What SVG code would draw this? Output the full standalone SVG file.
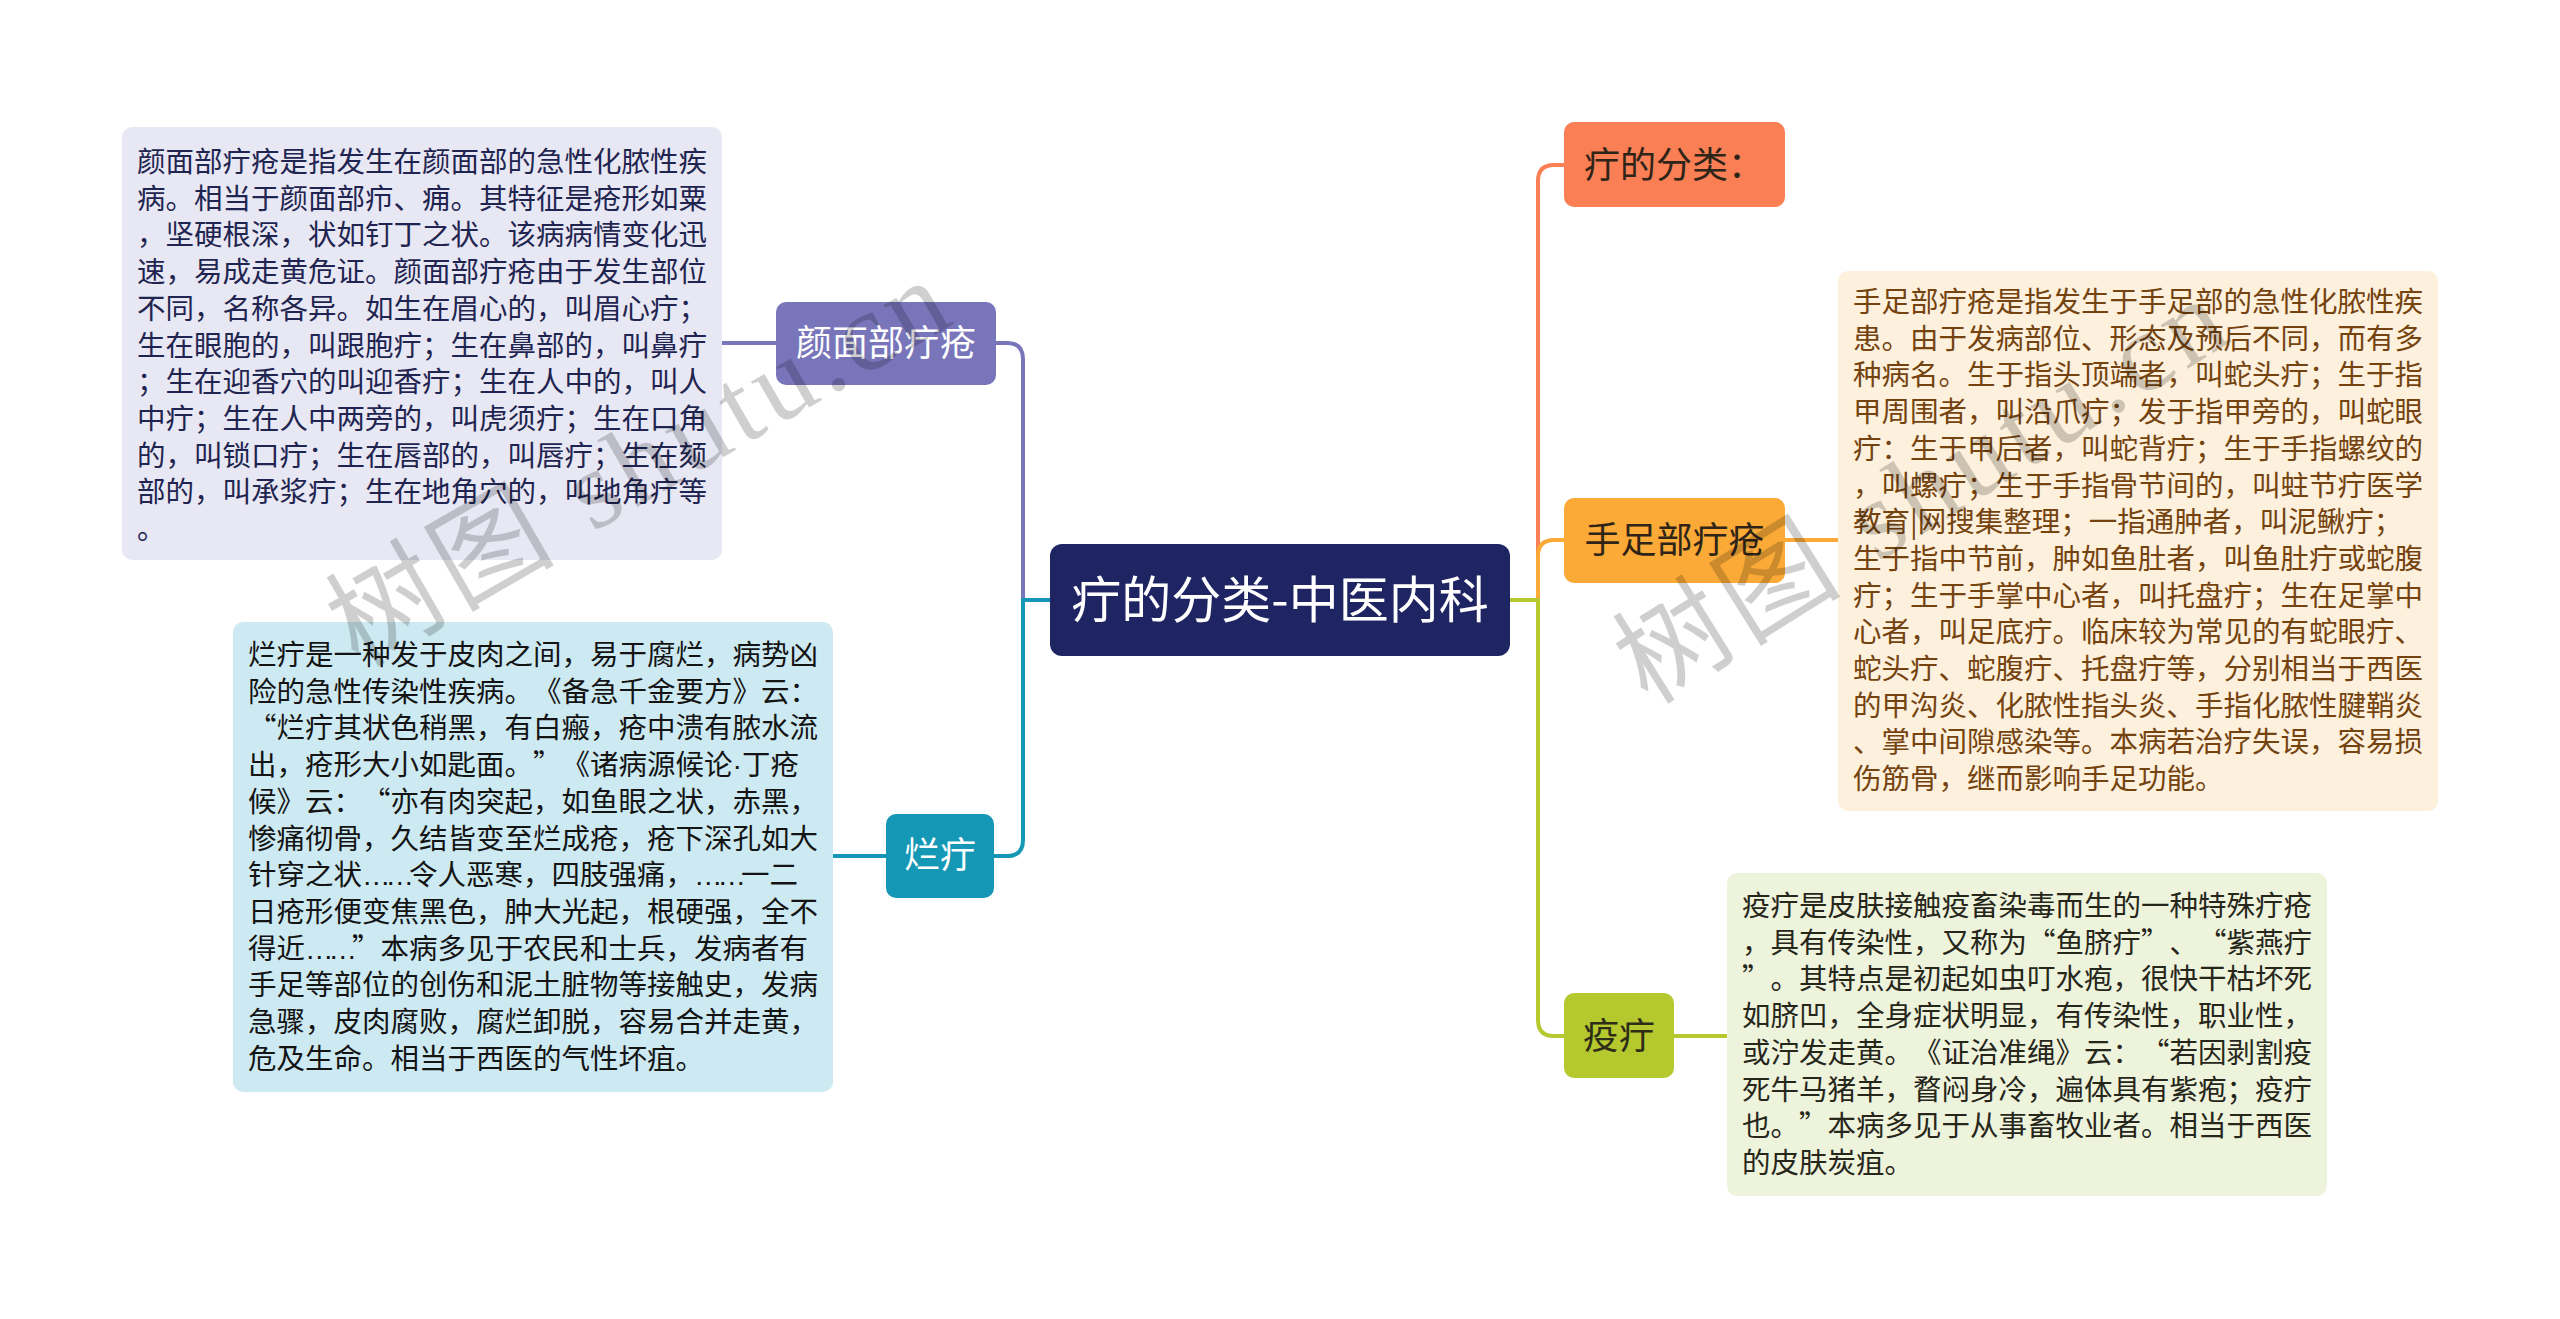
<svg xmlns="http://www.w3.org/2000/svg" width="2560" height="1319" viewBox="0 0 2560 1319" xml:lang="zh-CN">
<style>
  text { font-family: "Noto Sans CJK SC", "Noto Sans", sans-serif; text-spacing-trim: space-all; }
  .conn { fill: none; stroke-width: 4; stroke-linecap: round; }
  .box-text { font-size: 28.5px; }
  .lbl { font-size: 36px; }
  .lat { font-family: "Liberation Sans", sans-serif; }
  .ell { font-family: "Liberation Sans", sans-serif; letter-spacing: -5px; }
  .wm { font-family: "Liberation Serif", "Noto Sans CJK SC", serif; font-size: 112px; fill: #000; fill-opacity: 0.19; }
</style>
<rect x="0" y="0" width="2560" height="1319" fill="#ffffff"/>

<g id="connectors">
  <path class="conn" stroke="#7875bb" d="M1050,600 H1023 V359 Q1023,343 1007,343 H996"/>
  <path class="conn" stroke="#7875bb" d="M722,343 H776"/>
  <path class="conn" stroke="#1597b6" d="M1050,600 H1023 V840 Q1023,856 1007,856 H994"/>
  <path class="conn" stroke="#1597b6" d="M833,856 H886"/>
  <path class="conn" stroke="#fa7f55" d="M1510,600 H1538 V181 Q1538,165 1554,165 H1564"/>
  <path class="conn" stroke="#fbaa37" d="M1510,600 H1538 V556 Q1538,540 1554,540 H1564"/>
  <path class="conn" stroke="#b5c92f" d="M1510,600 H1538 V1020 Q1538,1036 1554,1036 H1564"/>
  <path class="conn" stroke="#fbaa37" d="M1785,540 H1838"/>
  <path class="conn" stroke="#b5c92f" d="M1674,1036 H1727"/>
</g>

<g id="root">
  <rect x="1050" y="544" width="460" height="112" rx="12" fill="#1f2563"/>
  <text x="1280" y="618" text-anchor="middle" font-size="50" fill="#ffffff">疔的分类-中医内科</text>
</g>

<g id="node-yanmian">
  <rect x="776" y="302" width="220" height="83" rx="10" fill="#7875bb"/>
  <text class="lbl" x="886" y="356" text-anchor="middle" fill="#ffffff">颜面部疔疮</text>
</g>

<g id="desc-yanmian">
  <rect x="122" y="127" width="600" height="433" rx="10" fill="#e8e8f4"/>
  <text class="box-text" x="137" y="172" fill="#1f2550">
    <tspan x="137" dy="0">颜面部疔疮是指发生在颜面部的急性化脓性疾</tspan>
    <tspan x="137" dy="36.7">病。相当于颜面部疖、痈。其特征是疮形如粟</tspan>
    <tspan x="137" dy="36.7">，坚硬根深，状如钉丁之状。该病病情变化迅</tspan>
    <tspan x="137" dy="36.7">速，易成走黄危证。颜面部疔疮由于发生部位</tspan>
    <tspan x="137" dy="36.7">不同，名称各异。如生在眉心的，叫眉心疔；</tspan>
    <tspan x="137" dy="36.7">生在眼胞的，叫跟胞疔；生在鼻部的，叫鼻疔</tspan>
    <tspan x="137" dy="36.7">；生在迎香穴的叫迎香疔；生在人中的，叫人</tspan>
    <tspan x="137" dy="36.7">中疔；生在人中两旁的，叫虎须疔；生在口角</tspan>
    <tspan x="137" dy="36.7">的，叫锁口疔；生在唇部的，叫唇疔；生在颏</tspan>
    <tspan x="137" dy="36.7">部的，叫承浆疔；生在地角穴的，叫地角疔等</tspan>
    <tspan x="137" dy="36.7">。</tspan>
  </text>
</g>

<g id="node-landing">
  <rect x="886" y="814" width="108" height="84" rx="10" fill="#1597b6"/>
  <text class="lbl" x="940" y="868" text-anchor="middle" fill="#ffffff">烂疔</text>
</g>

<g id="desc-landing">
  <rect x="233" y="622" width="600" height="470" rx="10" fill="#cdeaf2"/>
  <text class="box-text" x="248" y="665" fill="#141414">
    <tspan x="248" dy="0">烂疔是一种发于皮肉之间，易于腐烂，病势凶</tspan>
    <tspan x="248" dy="36.7">险的急性传染性疾病。《备急千金要方》云：</tspan>
    <tspan x="248" dy="36.7">“烂疔其状色稍黑，有白瘢，疮中溃有脓水流</tspan>
    <tspan x="248" dy="36.7">出，疮形大小如匙面。”《诸病源候论<tspan class="lat">·</tspan>丁疮</tspan>
    <tspan x="248" dy="36.7">候》云：“亦有肉突起，如鱼眼之状，赤黑，</tspan>
    <tspan x="248" dy="36.7">惨痛彻骨，久结皆变至烂成疮，疮下深孔如大</tspan>
    <tspan x="248" dy="36.7">针穿之状<tspan class="ell">……</tspan>令人恶寒，四肢强痛，<tspan class="ell">……</tspan>一二</tspan>
    <tspan x="248" dy="36.7">日疮形便变焦黑色，肿大光起，根硬强，全不</tspan>
    <tspan x="248" dy="36.7">得近<tspan class="ell">……</tspan>”本病多见于农民和士兵，发病者有</tspan>
    <tspan x="248" dy="36.7">手足等部位的创伤和泥土脏物等接触史，发病</tspan>
    <tspan x="248" dy="36.7">急骤，皮肉腐败，腐烂卸脱，容易合并走黄，</tspan>
    <tspan x="248" dy="36.7">危及生命。相当于西医的气性坏疽。</tspan>
  </text>
</g>

<g id="node-fenlei">
  <rect x="1564" y="122" width="221" height="85" rx="10" fill="#fa7f55"/>
  <text class="lbl" x="1584" y="178" fill="#2e2418">疔的分类：</text>
</g>

<g id="node-shouzu">
  <rect x="1564" y="498" width="221" height="85" rx="10" fill="#fbaa37"/>
  <text class="lbl" x="1674.5" y="553" text-anchor="middle" fill="#2e2418">手足部疔疮</text>
</g>

<g id="desc-shouzu">
  <rect x="1838" y="271" width="600" height="540" rx="10" fill="#fdf0dc"/>
  <text class="box-text" x="1853" y="312" fill="#74430f">
    <tspan x="1853" dy="0">手足部疔疮是指发生于手足部的急性化脓性疾</tspan>
    <tspan x="1853" dy="36.7">患。由于发病部位、形态及预后不同，而有多</tspan>
    <tspan x="1853" dy="36.7">种病名。生于指头顶端者，叫蛇头疔；生于指</tspan>
    <tspan x="1853" dy="36.7">甲周围者，叫沿爪疔；发于指甲旁的，叫蛇眼</tspan>
    <tspan x="1853" dy="36.7">疔：生于甲后者，叫蛇背疔；生于手指螺纹的</tspan>
    <tspan x="1853" dy="36.7">，叫螺疔；生于手指骨节间的，叫蛀节疔医学</tspan>
    <tspan x="1853" dy="36.7">教育|网搜集整理；一指通肿者，叫泥鳅疔；</tspan>
    <tspan x="1853" dy="36.7">生于指中节前，肿如鱼肚者，叫鱼肚疔或蛇腹</tspan>
    <tspan x="1853" dy="36.7">疔；生于手掌中心者，叫托盘疔；生在足掌中</tspan>
    <tspan x="1853" dy="36.7">心者，叫足底疔。临床较为常见的有蛇眼疔、</tspan>
    <tspan x="1853" dy="36.7">蛇头疔、蛇腹疔、托盘疔等，分别相当于西医</tspan>
    <tspan x="1853" dy="36.7">的甲沟炎、化脓性指头炎、手指化脓性腱鞘炎</tspan>
    <tspan x="1853" dy="36.7">、掌中间隙感染等。本病若治疗失误，容易损</tspan>
    <tspan x="1853" dy="36.7">伤筋骨，继而影响手足功能。</tspan>
  </text>
</g>

<g id="node-yiding">
  <rect x="1564" y="993" width="110" height="85" rx="10" fill="#b5c92f"/>
  <text class="lbl" x="1619" y="1049" text-anchor="middle" fill="#2e2e18">疫疔</text>
</g>

<g id="desc-yiding">
  <rect x="1727" y="873" width="600" height="323" rx="10" fill="#eef3dc"/>
  <text class="box-text" x="1742" y="916" fill="#26261a">
    <tspan x="1742" dy="0">疫疔是皮肤接触疫畜染毒而生的一种特殊疔疮</tspan>
    <tspan x="1742" dy="36.7">，具有传染性，又称为“鱼脐疔”、“紫燕疔</tspan>
    <tspan x="1742" dy="36.7">”。其特点是初起如虫叮水疱，很快干枯坏死</tspan>
    <tspan x="1742" dy="36.7">如脐凹，全身症状明显，有传染性，职业性，</tspan>
    <tspan x="1742" dy="36.7">或泞发走黄。《证治准绳》云：“若因剥割疫</tspan>
    <tspan x="1742" dy="36.7">死牛马猪羊，瞀闷身冷，遍体具有紫疱；疫疔</tspan>
    <tspan x="1742" dy="36.7">也。”本病多见于从事畜牧业者。相当于西医</tspan>
    <tspan x="1742" dy="36.7">的皮肤炭疽。</tspan>
  </text>
</g>

<g id="watermarks">
  <text class="wm" transform="translate(358,668) rotate(-30)" textLength="690" lengthAdjust="spacing">树图 shutu.cn</text>
  <text class="wm" transform="translate(1648,706) rotate(-32)" textLength="690" lengthAdjust="spacing">树图 shutu.cn</text>
</g>
</svg>
